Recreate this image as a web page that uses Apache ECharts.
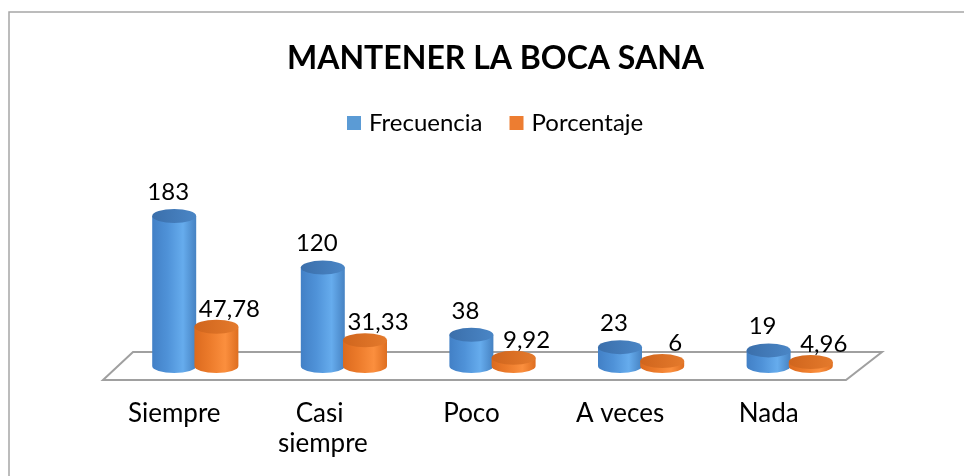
<!DOCTYPE html>
<html>
<head>
<meta charset="utf-8">
<script src="https://cdn.jsdelivr.net/npm/echarts@6/dist/echarts.min.js"></script>
<style>html,body{margin:0;padding:0;background:#fff}#c{width:964px;height:476px}</style>
</head>
<body>
<div id="c"></div>
<script>
const categories = ['Siempre', 'Casi siempre', 'Poco', 'A veces', 'Nada'];
const frecuencia = [183, 120, 38, 23, 19];
const porcentaje = [47.78, 31.33, 9.92, 6, 4.96];
const seriesNames = ['Frecuencia', 'Porcentaje'];
const titleText = 'MANTENER LA BOCA SANA';

const FONT = 'Lato, "Open Sans", sans-serif';

const styles = {
  blue: {
    legend: '#5B9BD5',
    body: [['0', '#4280c6'], ['0.35', '#4f92d8'], ['0.7', '#66aced'], ['1', '#4682c2']],
    top: [['0', '#3b6fab'], ['1', '#4a86c6']],
    off: -0.142, lblDx: -6, lblDy: 24
  },
  orange: {
    legend: '#ED7D31',
    body: [['0', '#dc6a1e'], ['0.35', '#ec7b2b'], ['0.7', '#fb8f3e'], ['1', '#de6e20']],
    top: [['0', '#d0651d'], ['1', '#e47a2c']],
    off: 0.142, lblDx: 13, lblDy: 18
  }
};

function grad(stops) {
  return { type: 'linear', x: 0, y: 0, x2: 1, y2: 0,
    colorStops: stops.map(s => ({ offset: +s[0], color: s[1] })) };
}

function makeCylinder(st) {
  return function (params, api) {
    const idx = api.value(0), val = api.value(1);
    const top = api.coord([idx, val]);
    const base = api.coord([idx, 0]);
    const band = api.size([1, 0])[0];
    const w = band * 0.296;
    const rx = w / 2, ry = 7;
    const cx = base[0] + band * st.off;
    const ty = top[1], by = base[1];
    const body = 'M' + (cx - rx) + ' ' + ty + ' L' + (cx - rx) + ' ' + by +
      ' A' + rx + ' ' + ry + ' 0 0 0 ' + (cx + rx) + ' ' + by +
      ' L' + (cx + rx) + ' ' + ty + ' Z';
    const cap = 'M' + (cx - rx) + ' ' + ty + ' A' + rx + ' ' + ry + ' 0 1 0 ' + (cx + rx) + ' ' + ty +
      ' A' + rx + ' ' + ry + ' 0 1 0 ' + (cx - rx) + ' ' + ty + ' Z';
    const txt = String(val).replace('.', ',');
    return {
      type: 'group',
      children: [
        { type: 'path', shape: { pathData: body }, style: { fill: grad(st.body), stroke: null } },
        { type: 'path', shape: { pathData: cap }, style: { fill: grad(st.top), stroke: null } },
        { type: 'text', style: { text: txt, x: cx + st.lblDx, y: ty - st.lblDy,
          align: 'center', verticalAlign: 'middle', font: '24px ' + FONT, fill: '#000' } }
      ]
    };
  };
}

function renderFloor(params, api) {
  const cs = params.coordSys;
  const base = api.coord([0, 0]);
  const y = base[1];
  const L = cs.x, R = cs.x + cs.width;
  return {
    type: 'polygon',
    shape: { points: [[L - 18, y + 14], [R - 18, y + 14], [R + 18, y - 14], [L + 12, y - 14]] },
    style: { fill: '#ffffff', stroke: '#a0a0a0', lineWidth: 2 }
  };
}

const chart = echarts.init(document.getElementById('c'), null, { renderer: 'canvas' });
chart.setOption({
  animation: false,
  backgroundColor: '#ffffff',
  title: {
    text: titleText, left: 282, top: 38,
    textStyle: { fontFamily: FONT, fontWeight: 'bold', fontSize: 32, color: '#000' }
  },
  legend: {
    data: seriesNames, top: 110, left: 347, padding: 0, icon: 'rect',
    itemWidth: 14, itemHeight: 14, itemGap: 27,
    textStyle: { fontFamily: FONT, fontSize: 24, color: '#000', padding: [0, 0, 0, 3], lineHeight: 26 }
  },
  graphic: [{
    type: 'rect', shape: { x: 9, y: 12, width: 1000, height: 520 },
    style: { fill: null, stroke: '#a6a6a6', lineWidth: 1.5 }, silent: true, z: -1
  }],
  grid: { left: 121, right: 100, top: 202, bottom: 110 },
  xAxis: {
    type: 'category', data: categories,
    axisLine: { show: false }, axisTick: { show: false }, splitLine: { show: false },
    axisLabel: {
      interval: 0,
      fontFamily: FONT, fontSize: 26, color: '#000', margin: 33, lineHeight: 30,
      width: 115, overflow: 'break', padding: [0, 42, 0, 0]
    }
  },
  yAxis: { type: 'value', min: 0, max: 200, show: false, splitLine: { show: false } },
  series: [
    { type: 'custom', name: 'floor', data: [[0, 0]], renderItem: renderFloor, z: 1, silent: true,
      encode: { x: 0, y: 1 } },
    { type: 'custom', name: seriesNames[0], data: frecuencia.map((v, i) => [i, v]),
      renderItem: makeCylinder(styles.blue), itemStyle: { color: styles.blue.legend },
      encode: { x: 0, y: 1 }, z: 2 },
    { type: 'custom', name: seriesNames[1], data: porcentaje.map((v, i) => [i, v]),
      renderItem: makeCylinder(styles.orange), itemStyle: { color: styles.orange.legend },
      encode: { x: 0, y: 1 }, z: 3 }
  ]
});
</script>
</body>
</html>
